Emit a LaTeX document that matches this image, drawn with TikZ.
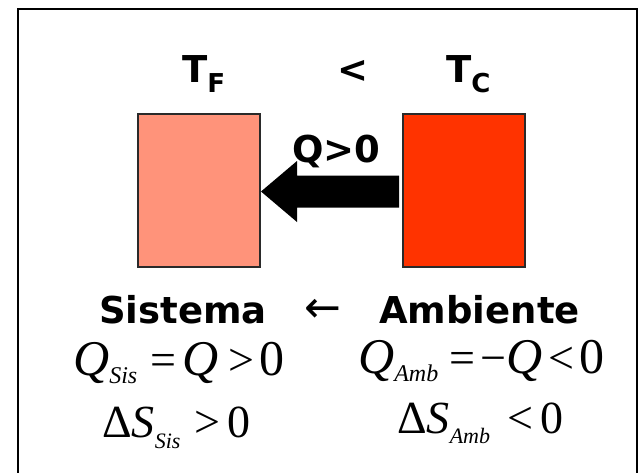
\documentclass[tikz,border=0pt]{standalone}
\usepackage{fontspec}
\setmainfont{DejaVu Sans}
\newfontfamily\tnr{Liberation Serif}
\newfontfamily\djv{DejaVu Sans}
\definecolor{coldbox}{HTML}{FF937A}
\definecolor{hotbox}{HTML}{FF3300}
\definecolor{edgegray}{HTML}{2A2A2A}
\newcommand{\subsc}[2]{\raisebox{-#1}{\fontsize{24}{24}\selectfont\itshape #2}}
\newcommand{\subsd}[2]{\raisebox{-#1}{\fontsize{22}{22}\selectfont\itshape #2}}
\newcommand{\rel}[1]{{\fontsize{46}{46}\selectfont #1}}
\begin{document}
\begin{tikzpicture}[x=1pt,y=-1pt,
  lbl/.style={inner sep=0pt,anchor=base west,font=\fontsize{37}{40}\selectfont\bfseries},
  frm/.style={inner sep=0pt,anchor=base west,font=\tnr\fontsize{50}{50}\selectfont},
  frmd/.style={inner sep=0pt,anchor=base west,font=\tnr\fontsize{46}{46}\selectfont},
  body/.style={draw=edgegray,line width=1.5pt,minimum width=122pt,minimum height=153pt,anchor=north west,inner sep=0pt}]
\useasboundingbox (0,0) rectangle (638,472);
\draw[line width=2pt] (17.5,480) -- (17.5,8.5) -- (636.5,8.5) -- (636.5,480);
% bodies
\node[body,fill=coldbox] (cold) at (137,113) {};
\node[body,fill=hotbox] (hot) at (402,113) {};
% heat arrow (from hot body to cold body)
\coordinate (tip) at (261,191.5);
\fill[black] (399,175.5) -- (297,175.5) -- (297,161) -- (tip) -- (297,222) -- (297,207.5) -- (399,207.5) -- cycle;
% temperature labels
\node[lbl] (tf) at (182,82) {T\raisebox{-10pt}{\fontsize{26}{26}\selectfont F}};
\node[lbl] (lt) at (337,82) {<};
\node[lbl] (tc) at (446,82) {T\raisebox{-10pt}{\fontsize{26}{26}\selectfont C}};
\node[lbl] (q) at (292,162) {Q>0};
% system / surroundings
\node[lbl] (sis) at (99,323) {Sistema};
\node[lbl] (amb) at (379,323) {Ambiente};
\node[inner sep=0pt,font=\djv\fontsize{44}{44}\selectfont] (arr) at (322.5,311) {←};
% formulas
\node[frm] (f1) at (73,375) {\textit{Q}\subsc{8pt}{Sis}\hspace{13pt}\rel{=}\hspace{6pt}\textit{Q}\hspace{10pt}\rel{>}\hspace{5pt}0};
\node[frm] (f2) at (358,373) {\textit{Q}\subsc{8pt}{Amb}\hspace{11pt}\rel{=}\hspace{5pt}\rel{−}\textit{Q}\hspace{6pt}\rel{<}\hspace{5pt}0};
\node[frmd] (f3) at (102,437) {Δ\textit{S}\subsd{11pt}{Sis}\hspace{14pt}\rel{>}\hspace{7pt}0};
\node[frmd] (f4) at (397,433) {Δ\textit{S}\subsd{10pt}{Amb}\hspace{17pt}\rel{<}\hspace{7pt}0};
\end{tikzpicture}
\end{document}
